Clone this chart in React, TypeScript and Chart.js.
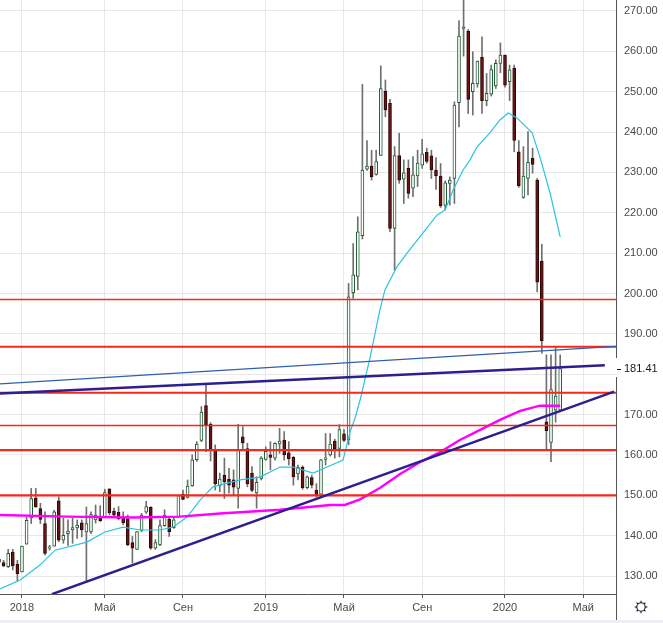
import { useEffect, useRef } from "react"
import { Chart, registerables } from "chart.js"

Chart.register(...registerables)

// weekly candles, index 0 = first week of 2018
const firstWeek = -5

const opens = [
  134.1, 133.3, 132.3, 135.9, 132.9,
  131.0, 137.9, 144.4, 149.3, 146.7, 143.0, 136.9, 137.4, 148.6, 138.9,
  140.5, 141.4, 141.9, 143.2, 140.9, 140.9, 143.9, 144.5, 144.7, 151.6,
  146.1, 145.8, 144.6, 144.1, 138.3, 136.6, 141.3, 145.8, 147.0, 136.9,
  137.7, 142.5, 144.1, 142.0, 144.7, 150.3, 149.5, 152.3, 158.8, 163.6,
  172.2, 167.6, 161.4, 152.4, 155.0, 154.0, 153.8, 151.7, 164.5, 161.6,
  155.5, 150.6, 154.2, 158.9, 160.0, 159.2, 162.7, 163.7, 160.5, 159.4,
  155.3, 157.0, 151.9, 154.4, 151.3, 150.3, 158.9, 160.0, 163.4, 161.6,
  165.2, 163.7, 200.2, 204.2, 214.3, 230.8, 231.6, 229.5, 234.2, 250.1,
  247.1, 216.1, 234.2, 228.3, 231.0, 226.1, 229.1, 231.8, 235.0, 234.1,
  230.6, 229.1, 221.9, 227.3, 228.5, 247.3, 265.7, 265.0, 250.0, 251.9,
  258.5, 247.8, 249.4, 251.4, 257.0, 259.1, 252.5, 255.8, 235.1, 223.8,
  228.5, 233.5, 228.1, 208.0, 168.2, 163.1, 171.1, 171.1,
]

const highs = [
  135.0, 133.9, 136.6, 136.6, 133.9,
  137.4, 144.7, 151.7, 151.7, 148.0, 145.9, 137.6, 146.3, 149.6, 144.3,
  143.9, 144.3, 143.9, 143.9, 147.1, 145.9, 147.6, 147.4, 151.5, 151.6,
  146.8, 147.2, 145.9, 145.1, 139.8, 141.0, 145.5, 148.5, 147.2, 139.0,
  143.9, 146.4, 144.7, 144.7, 150.1, 151.3, 153.8, 160.0, 163.3, 172.0,
  177.3, 168.0, 162.5, 155.5, 159.2, 156.7, 156.3, 167.6, 167.0, 162.9,
  157.1, 154.6, 159.6, 162.0, 163.3, 163.0, 166.6, 165.8, 163.3, 159.6,
  157.5, 157.3, 154.8, 155.0, 152.9, 158.9, 165.3, 165.3, 163.9, 167.5,
  166.3, 202.5, 212.4, 219.0, 251.8, 237.9, 235.5, 235.5, 256.4, 252.9,
  248.1, 236.4, 239.7, 233.1, 233.1, 233.9, 235.5, 238.2, 236.0, 235.5,
  233.7, 232.2, 227.9, 228.9, 247.5, 267.6, 273.0, 265.4, 259.9, 257.6,
  263.6, 254.5, 256.6, 257.9, 262.1, 259.1, 256.6, 256.6, 237.9, 236.4,
  240.1, 236.0, 228.5, 212.2, 184.8, 184.8, 186.6, 184.8,
]

const lows = [
  132.8, 132.3, 132.1, 131.5, 128.8,
  131.0, 137.9, 143.0, 147.0, 143.0, 135.2, 136.4, 137.4, 138.5, 138.1,
  137.6, 138.1, 139.3, 139.7, 128.6, 140.5, 143.1, 143.5, 144.7, 145.1,
  144.7, 143.9, 142.7, 137.5, 133.2, 136.5, 141.0, 145.5, 136.6, 136.6,
  137.5, 142.3, 139.8, 141.8, 144.6, 148.9, 149.3, 152.2, 158.4, 163.3,
  160.8, 158.5, 151.3, 150.9, 149.2, 150.5, 150.1, 146.8, 161.2, 152.1,
  150.9, 146.8, 153.8, 158.7, 156.3, 158.7, 160.4, 158.7, 157.5, 152.5,
  153.8, 151.5, 151.6, 151.8, 149.5, 150.2, 157.5, 159.7, 159.2, 159.5,
  163.3, 162.5, 198.8, 200.9, 213.5, 230.5, 228.1, 229.3, 234.2, 243.8,
  215.3, 205.8, 227.3, 222.3, 223.6, 224.0, 226.5, 231.0, 232.3, 228.5,
  225.8, 221.3, 220.7, 221.9, 222.3, 241.3, 258.8, 244.6, 244.2, 251.1,
  244.6, 246.5, 248.9, 250.8, 254.7, 251.1, 247.8, 235.1, 226.3, 223.6,
  224.4, 229.8, 200.4, 185.2, 161.4, 158.3, 168.1, 170.7,
]

const closes = [
  133.4, 132.5, 135.6, 132.5, 130.6,
  137.4, 143.8, 149.2, 147.1, 144.0, 135.6, 137.2, 145.9, 138.9, 140.1,
  141.1, 142.0, 142.6, 141.4, 143.0, 145.2, 145.1, 143.7, 150.7, 145.7,
  145.1, 144.2, 143.2, 137.7, 136.9, 141.0, 145.1, 147.2, 136.9, 138.3,
  142.5, 145.1, 141.0, 143.9, 149.9, 149.0, 152.3, 158.8, 162.7, 170.6,
  167.4, 161.4, 152.8, 154.0, 153.3, 152.5, 152.0, 161.2, 163.0, 152.9,
  151.2, 153.2, 159.2, 160.9, 159.4, 162.9, 163.4, 160.0, 159.1, 154.6,
  157.0, 151.9, 154.6, 152.5, 150.0, 158.8, 159.3, 162.7, 161.5, 166.3,
  163.6, 199.2, 204.6, 215.3, 230.6, 231.6, 228.9, 232.7, 250.8, 245.5,
  216.1, 234.2, 228.1, 229.9, 224.8, 229.4, 232.3, 234.6, 232.7, 230.6,
  229.1, 221.7, 227.4, 228.1, 246.7, 263.8, 266.1, 248.1, 252.1, 257.6,
  247.8, 249.6, 255.5, 257.0, 259.1, 251.6, 255.4, 237.9, 226.7, 229.1,
  232.5, 232.0, 202.8, 188.3, 166.0, 176.2, 174.6, 181.41,
]

// moving averages (week, value)
const fastMaWeeks = [-4.8, -0.4, 3.9, 7.2, 14.1, 18.0, 22.0, 25.7, 30.0, 32.8, 35.9, 38.7, 41.5, 47.4, 51.7, 56.1, 58.9, 63.3, 66.3, 69.8, 71.3, 72.4, 73.5, 75.7, 77.8, 78.9, 81.5, 83.7, 86.5, 90.2, 92.0, 93.7, 95.9, 97.4, 98.9, 101.7, 103.9, 105.7, 107.6, 110.9, 112.6, 114.8, 117.0]
const fastMaValues = [126.8, 129.0, 132.7, 136.4, 138.4, 140.9, 142.1, 141.4, 141.4, 142.1, 144.6, 148.8, 152.1, 153.8, 154.5, 157.0, 157.0, 155.5, 157.0, 158.7, 165.7, 169.1, 173.6, 184.3, 195.9, 200.9, 206.6, 210.0, 214.0, 219.4, 220.7, 225.6, 230.6, 233.1, 236.3, 239.8, 243.0, 244.7, 243.5, 239.8, 233.8, 224.9, 214.0]

const slowMaWeeks = [-4.8, 9.8, 24.1, 34.3, 43.0, 56.1, 67.0, 70.2, 73.5, 77.8, 82.2, 86.5, 90.9, 95.2, 99.6, 103.9, 108.3, 112.6, 117.0]
const slowMaValues = [145.1, 144.7, 144.5, 144.7, 145.5, 146.4, 147.6, 147.6, 149.0, 151.8, 155.3, 158.2, 160.7, 163.7, 166.2, 168.7, 170.9, 172.2, 172.2]

// horizontal levels
const levels = [198.5, 186.8, 175.4, 167.3, 161.2, 150.0]

// trend lines: start/end in (week, price)
const trendStartWeeks = [-4.8, -4.8, 6.5]
const trendStartPrices = [177.6, 175.2, 125.5]
const trendEndWeeks = [129.2, 126.7, 128.7]
const trendEndPrices = [186.9, 182.2, 175.7]

const tickWeeks = [0, 18, 35, 53, 70, 87, 105, 122]
const tickLabels = ["2018", "Май", "Сен", "2019", "Май", "Сен", "2020", "Май"]
const priceTicks = [130, 140, 150, 160, 170, 180, 190, 200, 210, 220, 230, 240, 250, 260, 270]

const FONT = "'Liberation Sans', Arial, sans-serif"
const TEXT = "#4a4a4a"

const overlay = {
  id: "overlay",
  afterDraw(chart: any) {
    const { ctx, chartArea, scales } = chart
    const last = closes[closes.length - 1]
    const y = scales.y.getPixelForValue(last)
    ctx.save()
    // last price label (covers the scale border too)
    ctx.fillStyle = "#ffffff"
    ctx.fillRect(chartArea.right - 0.5, y - 10.5, chart.width - chartArea.right + 1, 19)
    ctx.strokeStyle = "#131722"
    ctx.lineWidth = 1
    ctx.beginPath()
    ctx.moveTo(chartArea.right + 1, Math.round(y) + 0.5)
    ctx.lineTo(chartArea.right + 5, Math.round(y) + 0.5)
    ctx.stroke()
    ctx.fillStyle = "#131722"
    ctx.font = `11px ${FONT}`
    ctx.textAlign = "left"
    ctx.textBaseline = "middle"
    ctx.fillText(last.toFixed(2), chartArea.right + 8, y)
    // separator under price scale
    ctx.strokeStyle = "#555555"
    ctx.beginPath()
    ctx.moveTo(chartArea.right + 0.5, chartArea.bottom)
    ctx.lineTo(chartArea.right + 0.5, chart.height)
    ctx.stroke()
    // bottom strip
    ctx.fillStyle = "#eeeef5"
    ctx.fillRect(0, chart.height - 3, chart.width, 3)
    // settings icon
    const cx = chartArea.right + 25
    const cy = chartArea.bottom + 13
    ctx.strokeStyle = "#131722"
    ctx.lineWidth = 1.1
    ctx.beginPath()
    ctx.arc(cx, cy, 4.2, 0, Math.PI * 2)
    ctx.stroke()
    for (let k = 0; k < 8; k++) {
      const a = (k * Math.PI) / 4
      ctx.beginPath()
      ctx.moveTo(cx + Math.cos(a) * 4.2, cy + Math.sin(a) * 4.2)
      ctx.lineTo(cx + Math.cos(a) * 6.3, cy + Math.sin(a) * 6.3)
      ctx.stroke()
    }
    ctx.restore()
  },
}

export default function App() {
  const chartRef = useRef<HTMLCanvasElement>(null)
  const chartInstance = useRef<Chart | null>(null)

  useEffect(() => {
    if (!chartRef.current) return
    const ctx = chartRef.current.getContext("2d")
    if (!ctx) return
    if (chartInstance.current) chartInstance.current.destroy()

    const weeks = opens.map((_, k) => firstWeek + k)
    const rising = opens.map((o, k) => closes[k] >= o)
    const bodies = weeks.map((w, k) => {
      const a = opens[k]
      let b = closes[k]
      if (Math.abs(a - b) < 0.3) b = a + (rising[k] ? 0.3 : -0.3)
      return { x: w, y: [a, b] }
    })
    const wicks = weeks.map((w, k) => ({ x: w, y: [lows[k], highs[k]] }))

    const xMin = -4.78
    const xMax = 129.13

    const levelSets = levels.map((v, k) => ({
      type: "line" as const,
      data: [{ x: xMin, y: v }, { x: xMax, y: v }],
      borderColor: "#f5281e",
      borderWidth: k === 0 || k === 3 ? 1.4 : 2.2,
      pointRadius: 0,
      order: 3,
    }))

    const trendColors = ["#2f5fb0", "#2c1f8f", "#2c1f8f"]
    const trendWidths = [1.3, 2.5, 2.5]
    const trendSets = trendStartWeeks.map((w, k) => ({
      type: "line" as const,
      data: [
        { x: w, y: trendStartPrices[k] },
        { x: trendEndWeeks[k], y: trendEndPrices[k] },
      ],
      borderColor: trendColors[k],
      borderWidth: trendWidths[k],
      pointRadius: 0,
      order: 2,
    }))

    const config: any = {
      type: "bar",
      data: {
        datasets: [
          {
            type: "bar",
            data: wicks,
            backgroundColor: "#707070",
            borderWidth: 0,
            barThickness: 1,
            grouped: false,
            order: 11,
          },
          {
            type: "bar",
            data: bodies,
            backgroundColor: rising.map((r) => (r ? "#ffffff" : "#6b1414")),
            borderColor: rising.map((r) => (r ? "#1d5b30" : "#2d0707")),
            borderWidth: 1,
            borderSkipped: false,
            barThickness: 3,
            grouped: false,
            order: 10,
          },
          {
            type: "line",
            data: slowMaWeeks.map((w, k) => ({ x: w, y: slowMaValues[k] })),
            borderColor: "#ff00ff",
            borderWidth: 2.4,
            pointRadius: 0,
            order: 4,
          },
          {
            type: "line",
            data: fastMaWeeks.map((w, k) => ({ x: w, y: fastMaValues[k] })),
            borderColor: "#2bc3df",
            borderWidth: 1.2,
            pointRadius: 0,
            order: 4,
          },
          ...levelSets,
          ...trendSets,
        ],
      },
      options: {
        animation: false,
        responsive: false,
        events: [],
        layout: { padding: 0 },
        plugins: {
          legend: { display: false },
          tooltip: { enabled: false },
        },
        scales: {
          x: {
            type: "linear",
            position: "bottom",
            min: xMin,
            max: xMax,
            offset: false,
            grid: { color: "#e8e8ea", offset: false, drawTicks: true, tickLength: 4, tickColor: "#555555" },
            border: { display: true, color: "#555555" },
            ticks: {
              autoSkip: false,
              maxRotation: 0,
              padding: 3,
              color: TEXT,
              font: { family: FONT, size: 11 },
              callback: (value: number) => {
                const k = tickWeeks.indexOf(value)
                return k >= 0 ? tickLabels[k] : ""
              },
            },
            afterBuildTicks: (axis: any) => {
              axis.ticks = tickWeeks.map((value) => ({ value }))
            },
            afterFit: (axis: any) => {
              axis.height = 29
              axis.paddingLeft = 0
              axis.paddingRight = 0
            },
          },
          y: {
            type: "linear",
            position: "right",
            min: 125.54,
            max: 272.72,
            grid: { color: "#e8e8ea", drawTicks: false },
            border: { display: true, color: "#555555" },
            ticks: {
              padding: 8,
              color: TEXT,
              font: { family: FONT, size: 11 },
              callback: (value: number) => Number(value).toFixed(2),
            },
            afterBuildTicks: (axis: any) => {
              axis.ticks = priceTicks.map((value) => ({ value }))
            },
            afterFit: (axis: any) => {
              axis.width = 47
              axis.paddingTop = 0
              axis.paddingBottom = 0
            },
          },
        },
      },
      plugins: [overlay],
    }

    chartInstance.current = new Chart(ctx, config)

    return () => {
      if (chartInstance.current) {
        chartInstance.current.destroy()
        chartInstance.current = null
      }
    }
  }, [])

  return (
    <div style={{ position: "fixed", left: 0, top: 0, width: 663, height: 623, background: "#ffffff" }}>
      <canvas ref={chartRef} width={663} height={623} />
    </div>
  )
}
